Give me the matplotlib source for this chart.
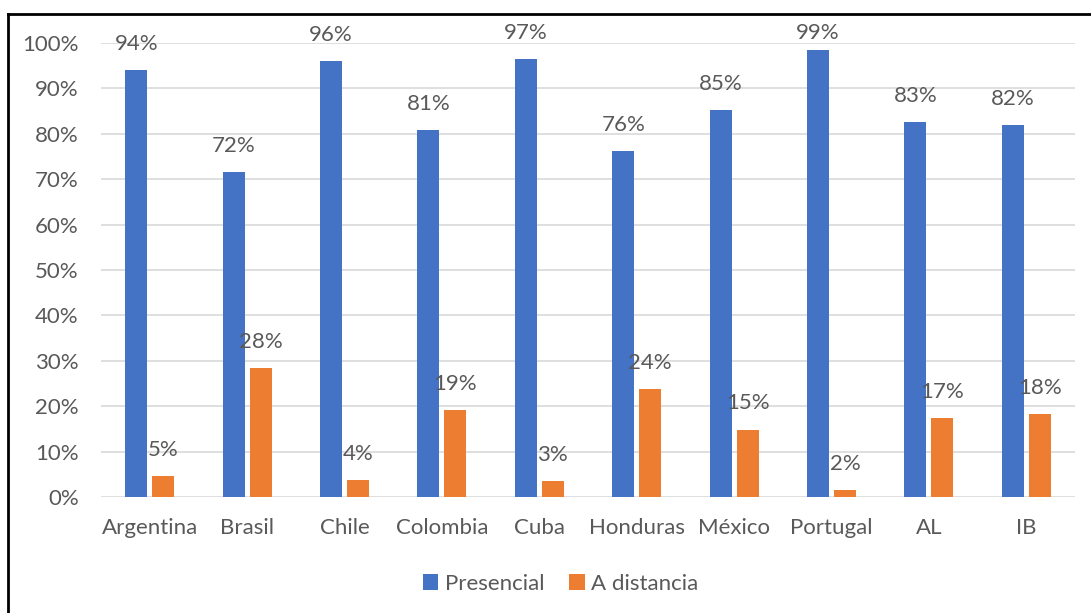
import numpy as np
import matplotlib.pyplot as plt
from matplotlib.lines import Line2D

paises = ["Argentina", "Brasil", "Chile", "Colombia", "Cuba", "Honduras",
          "México", "Portugal", "AL", "IB"]
presencial = [94.0, 71.6, 96.0, 80.8, 96.5, 76.2, 85.2, 98.5, 82.6, 81.9]
a_distancia = [4.6, 28.4, 3.7, 19.2, 3.5, 23.8, 14.8, 1.5, 17.4, 18.3]
etiq_presencial = ["94%", "72%", "96%", "81%", "97%", "76%", "85%", "99%", "83%", "82%"]
etiq_distancia = ["5%", "28%", "4%", "19%", "3%", "24%", "15%", "2%", "17%", "18%"]

azul = "#4472C4"
naranja = "#ED7D31"
gris = "#595959"

plt.rcParams['font.family'] = ['Lato', 'DejaVu Sans']

fig = plt.figure(figsize=(10.91, 6.13), dpi=100)
ax = fig.add_axes([101 / 1091, 116 / 613, 974 / 1091, 454 / 613])

x = np.arange(len(paises))
w = 0.226
off = 0.138
b1 = ax.bar(x - off, presencial, w, color=azul, label="Presencial", zorder=3)
b2 = ax.bar(x + off, a_distancia, w, color=naranja, label="A distancia", zorder=3)

# etiquetas encima de la barra, sin salir del área del gráfico (como Excel)
for barras, etiquetas in ((b1, etiq_presencial), (b2, etiq_distancia)):
    for rect, t in zip(barras, etiquetas):
        y = min(rect.get_height() + 5.8, 102.3)
        ax.text(rect.get_x() + rect.get_width() / 2, y, t, ha="center", va="center",
                fontsize=16, color=gris, clip_on=False)

ax.set_xlim(-0.5, len(paises) - 0.5)
ax.set_ylim(0, 100)
ax.set_yticks(range(0, 101, 10))
ax.set_yticklabels([f"{v}%" for v in range(0, 101, 10)])
ax.set_xticks(x)
ax.set_xticklabels(paises)
ax.tick_params(axis="both", length=0, labelsize=16, colors=gris)
ax.tick_params(axis="y", pad=16)
ax.tick_params(axis="x", pad=15)
ax.grid(axis="y", color="#D9D9D9", linewidth=1.2, zorder=0)
for s in ax.spines.values():
    s.set_visible(False)

ax.legend(loc="upper center", bbox_to_anchor=(0.472, -0.125), ncol=2, frameon=False,
          fontsize=16, labelcolor=gris, handlelength=0.7, handleheight=0.7,
          columnspacing=1.1, handletextpad=0.3)

# marco negro (solo arriba e izquierda visibles)
fig.add_artist(Line2D([8 / 1091, 1], [1 - 14 / 613, 1 - 14 / 613], color="black", lw=2))
fig.add_artist(Line2D([8 / 1091, 8 / 1091], [0, 1 - 14 / 613], color="black", lw=2))

fig.savefig("out.png", dpi=100)
